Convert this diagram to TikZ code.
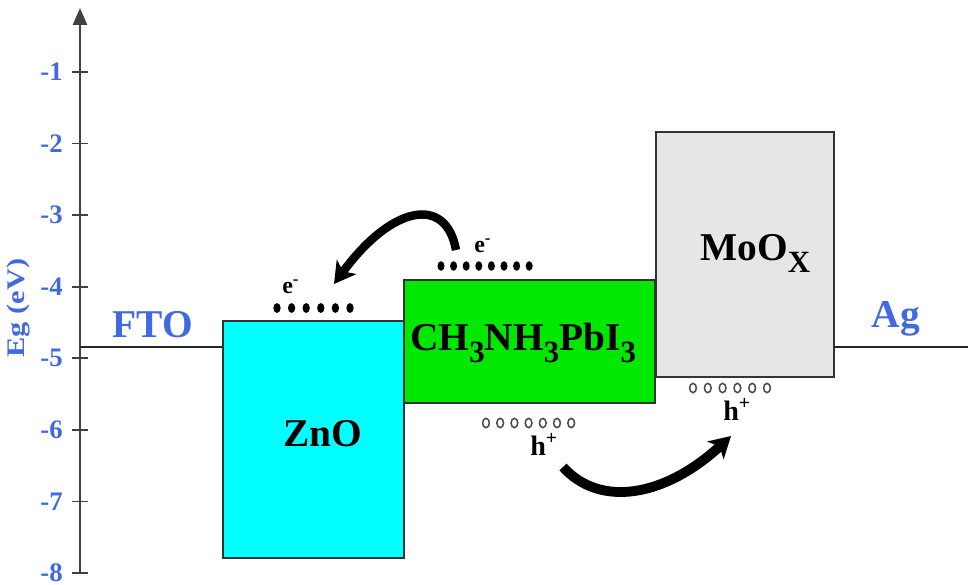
\documentclass[tikz,border=0pt]{standalone}
\usepackage{fontspec}
\setmainfont{Liberation Serif}
\usepackage[dvipsnames,svgnames,x11names]{xcolor}
\usepackage{graphicx}
\usetikzlibrary{arrows.meta,positioning}
\definecolor{axisblue}{RGB}{65,105,225}
\definecolor{znocyan}{RGB}{0,255,255}
\definecolor{pvkgreen}{RGB}{0,232,0}
\definecolor{mooxgray}{RGB}{230,230,230}
\newcommand{\lowidx}[1]{\raisebox{-0.32em}{\fontsize{22}{24}\selectfont #1}}

\begin{document}
\begin{tikzpicture}[x=0.025cm,y=-0.025cm,font=\bfseries,>=Stealth,
  band/.style={rectangle,draw=black!80,line width=1.3pt,inner sep=0pt,anchor=north west},
  bigtext/.style={font=\fontsize{28}{30}\selectfont\bfseries,inner sep=0pt,anchor=base west},
  carrier/.style={font=\fontsize{17}{19}\selectfont\bfseries,inner sep=0pt,anchor=base west},
  holetext/.style={font=\fontsize{20}{22}\selectfont\bfseries,inner sep=0pt,anchor=base west},
  ticklbl/.style={font=\fontsize{19}{21}\selectfont\bfseries,text=axisblue,inner sep=0pt,anchor=east},
  metal/.style={font=\fontsize{28}{30}\selectfont\bfseries,text=axisblue,inner sep=0pt,anchor=base},
  flow/.style={line width=6pt,-{Stealth[length=15pt,width=17pt,inset=4pt]}}]
\useasboundingbox (0,0) rectangle (968,585);
% energy axis
\coordinate (ybot) at (80,573);
\coordinate (ytop) at (80,8);
\draw[line width=1.5pt,black!75,-{Triangle[length=12pt,width=10pt]}] (ybot) -- (ytop);
\foreach \e in {1,...,8}{
  \draw[line width=1.3pt,black!75] (72,0.43+71.57*\e) -- (88,0.43+71.57*\e);
  \node[ticklbl] (tick\e) at (63,0.43+71.57*\e) {-\e};
}
\node[font=\fontsize{18}{20}\selectfont\bfseries,text=axisblue,rotate=90,inner sep=0pt] (eglbl) at (19,308) {\scalebox{1.2}[1]{Eg (eV)}};

% bands
\node[band,fill=znocyan,minimum width=4.525cm,minimum height=5.925cm] (zno) at (222,320) {};
\node[band,fill=pvkgreen,minimum width=6.275cm,minimum height=3.075cm] (pvk) at (403,279) {};
\node[band,fill=mooxgray,minimum width=4.45cm,minimum height=6.125cm] (moox) at (655,131) {};
\node[bigtext] (znolbl) at (283,446) {ZnO};
\node[bigtext] (pvklbl) at (410,350) {CH\lowidx{3}NH\lowidx{3}PbI\lowidx{3}};
\node[bigtext] (mooxlbl) at (700,260) {MoO\lowidx{X}};

% electrodes
\coordinate (ftoL) at (80,347);
\coordinate (agR) at (968,347);
\draw[line width=1.5pt,black!85] (ftoL) -- (ftoL -| zno.west);
\draw[line width=1.5pt,black!85] (moox.east |- agR) -- (agR);
\node[metal] (fto) at (153,337) {FTO};
\node[metal] (ag) at (896,327) {Ag};

% electrons
\foreach \i in {0,...,5}
  \fill (277+14.6*\i,308) ellipse [x radius=2.6pt,y radius=3.5pt];
\foreach \i in {0,...,7}
  \fill (441+12.6*\i,266) ellipse [x radius=2.5pt,y radius=3.4pt];
\node[carrier] (eZnO) at (282,293) {e\textsuperscript{-}};
\node[carrier] (ePvk) at (474,252) {e\textsuperscript{-}};

% holes
\foreach \i in {0,...,6}
  \draw[black!70,line width=1.1pt] (486+14.2*\i,423) ellipse [x radius=2.4pt,y radius=3.3pt];
\foreach \i in {0,...,5}
  \draw[black!70,line width=1.1pt] (693+14.8*\i,388) ellipse [x radius=2.4pt,y radius=3.3pt];
\node[holetext] (hPvk) at (530,455) {h\textsuperscript{+}};
\node[holetext] (hMoO) at (723,420) {h\textsuperscript{+}};

% transfer
\coordinate (eFrom) at (456,250);
\coordinate (eTo) at (334,284);
\coordinate (hFrom) at (563,467);
\coordinate (hTo) at (731,436);
\draw[flow] (eFrom) .. controls (446,195) and (392,205) .. (eTo);
\draw[flow,line width=7pt] (hFrom) .. controls (600,508) and (665,497) .. (hTo);
\end{tikzpicture}
\end{document}
